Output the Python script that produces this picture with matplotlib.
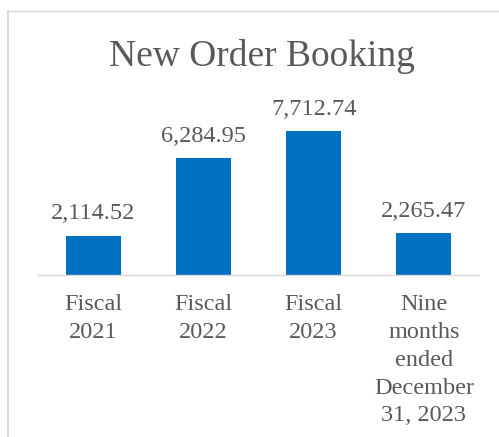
import matplotlib
matplotlib.use("Agg")
import matplotlib.pyplot as plt
from matplotlib.lines import Line2D

categories = ["Fiscal\n2021", "Fiscal\n2022", "Fiscal\n2023",
              "Nine\nmonths\nended\nDecember\n31, 2023"]
bookings = [2114.52, 6284.95, 7712.74, 2265.47]

W, H = 499, 437
fig = plt.figure(figsize=(W / 100, H / 100), dpi=100)
plt.rcParams["font.family"] = ["Liberation Serif", "DejaVu Serif"]

text_color = "#595959"
bar_color = "#0070C0"
line_color = "#D9D9D9"

# plot area in pixel units, converted to figure fractions
left_px, right_px = 38, 479
base_px, top_px = 275, 107
ax = fig.add_axes([left_px / W, (H - base_px) / H,
                   (right_px - left_px) / W, (base_px - top_px) / H])

x = range(len(categories))
bars = ax.bar(x, bookings, width=0.5, color=bar_color)
ax.set_xlim(-0.5, len(categories) - 0.5)
ax.set_ylim(0, 9000)

for rect, v in zip(bars, bookings):
    ax.annotate(f"{v:,.2f}", (rect.get_x() + rect.get_width() / 2, v),
                xytext=(0, 8), textcoords="offset points",
                ha="center", va="bottom", fontsize=17.5, color=text_color)

ax.set_xticks(list(x))
ax.set_xticklabels(categories, fontsize=17.5, color=text_color, linespacing=1.42)
ax.tick_params(axis="x", length=0, pad=14)
ax.set_yticks([])
for side in ("left", "right", "top"):
    ax.spines[side].set_visible(False)
ax.spines["bottom"].set_color(line_color)
ax.spines["bottom"].set_linewidth(1.0)

fig.text(262 / W, 1 - 57 / H, "New Order Booking", ha="center", va="center",
         fontsize=27, color=text_color)

# chart frame edges
fig.add_artist(Line2D([8 / W, 8 / W], [0, 1 - 11 / H], color=line_color,
                      lw=1.5, transform=fig.transFigure))
fig.add_artist(Line2D([8 / W, 1], [1 - 11 / H, 1 - 11 / H], color=line_color,
                      lw=1.0, transform=fig.transFigure))

fig.savefig("out.png", dpi=100)
